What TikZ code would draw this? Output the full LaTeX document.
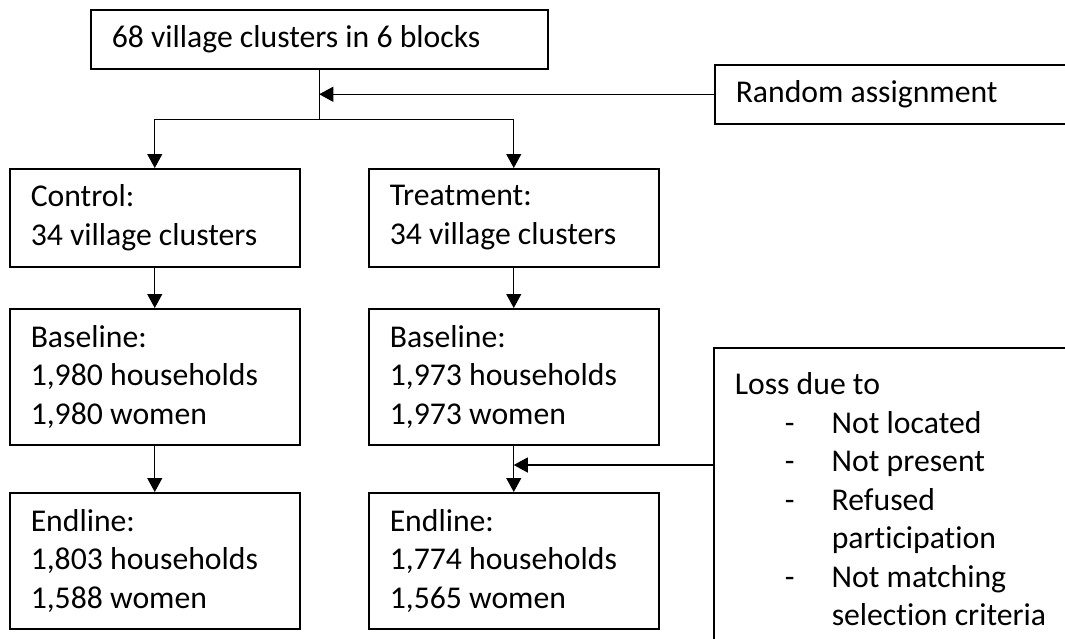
\documentclass[tikz,border=0pt]{standalone}
\usepackage{fontspec}
\setmainfont{Carlito}[Ligatures=NoCommon]
\usetikzlibrary{arrows.meta,calc}
\newcommand{\dashitem}[1]{\makebox[97pt][l]{\hspace*{50pt}-}#1}
\begin{document}
\begin{tikzpicture}[x=1pt,y=-1pt,
  box/.style={draw, line width=1.5pt, anchor=north west, align=flush left,
    inner xsep=21pt, inner ysep=0pt, font=\fontsize{31.7}{38.5}\selectfont},
  arr/.style={line width=1.1pt, -{Triangle[length=14pt,width=15pt]}},
  conn/.style={line width=1.1pt}]
\useasboundingbox (0,0) rectangle (1065,638);
\clip (0,0) rectangle (1065,638);
\fill[white] (0,0) rectangle (1065,638);
\node[box, text width=415pt, minimum height=59pt] (top) at (90,9) {68 village clusters in 6 blocks};
\node[box, text width=358pt, minimum height=59pt] (rand) at (714,64) {Random assignment};
\node[box, text width=248pt, minimum height=98pt] (ctrl) at (9,168) {Control:\\34 village clusters};
\node[box, text width=248pt, minimum height=98pt] (treat) at (368,168) {Treatment:\\34 village clusters};
\node[box, text width=248pt, minimum height=136pt] (cbase) at (9,308) {Baseline:\\1,980 households\\1,980 women};
\node[box, text width=248pt, minimum height=136pt] (tbase) at (368,308) {Baseline:\\1,973 households\\1,973 women};
\node[box, text width=248pt, minimum height=136pt] (cend) at (9,492) {Endline:\\1,803 households\\1,588 women};
\node[box, text width=248pt, minimum height=136pt] (tend) at (368,492) {Endline:\\1,774 households\\1,565 women};
\node[box, text width=360pt, inner ysep=25pt, text depth=320pt] (loss) at (713,347) {Loss due to\\
\dashitem{Not located}\\
\dashitem{Not present}\\
\dashitem{Refused}\\
\hspace*{97pt}participation\\
\dashitem{Not matching}\\
\hspace*{97pt}selection criteria};
\coordinate (split) at ($(top.south)+(0,50)$);
\coordinate (lossin) at ($(loss.north west)+(0,118)$);
\draw[conn] (top.south) -- (split);
\draw[arr] (split) -| (ctrl.north);
\draw[arr] (split) -| (treat.north);
\draw[arr] (rand.west) -- (rand.west -| top.south);
\draw[arr] (ctrl.south) -- (cbase.north);
\draw[arr] (treat.south) -- (tbase.north);
\draw[arr] (cbase.south) -- (cend.north);
\draw[arr] (tbase.south) -- (tend.north);
\draw[arr] (lossin) -- (lossin -| tbase.south);
\end{tikzpicture}
\end{document}
